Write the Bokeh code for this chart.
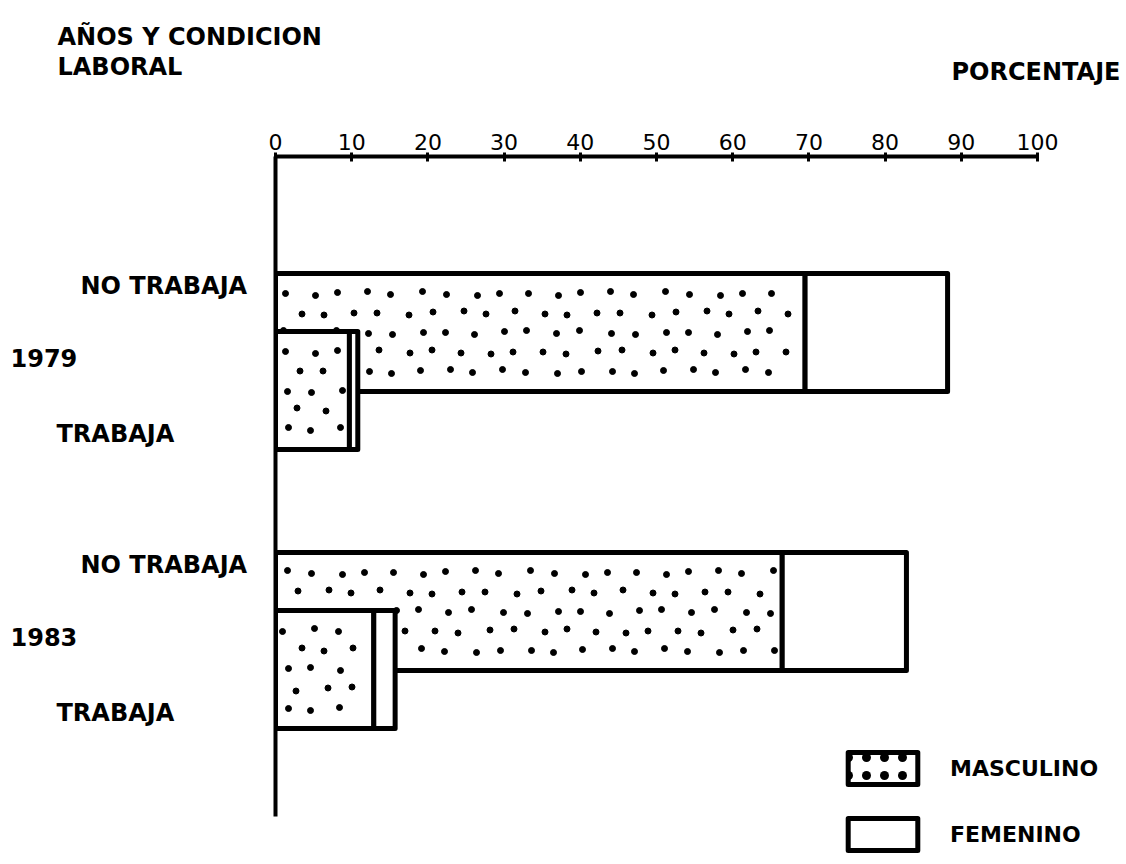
from bokeh.plotting import figure
from bokeh.layouts import column, row
from bokeh.models import (Range1d, ColumnDataSource, Legend, LegendItem, FixedTicker)
from bokeh.core.properties import value
from bokeh.embed import file_html
from bokeh.resources import INLINE

# ---- data ----
years = ["1979", "1983"]
conditions = ["NO TRABAJA", "TRABAJA"]
masculino_no_trabaja = [69.5, 66.5]
femenino_no_trabaja = [18.7, 16.3]
masculino_trabaja = [9.7, 12.9]
femenino_trabaja = [1.1, 2.8]
x_ticks = [0, 10, 20, 30, 40, 50, 60, 70, 80, 90, 100]
header_left = ["AÑOS Y CONDICION", "LABORAL"]
header_right = "PORCENTAJE"
legend_labels = ["MASCULINO", "FEMENINO"]

# ---- layout constants (pixels) ----
W, H = 1124, 862
HEAD_H = 116            # height of the header strip
LEFT_W = 250            # width of the left label strip
FRAME_L, FRAME_T = 275, 156
PX = 7.62               # px per percentage point
FONT = "DejaVu Sans"
TXT = dict(text_font=value(FONT), text_font_style="bold", text_font_size=value("24px"),
           text_color="black", text_baseline="middle")

group_centers = [361 + 279 * i for i in range(len(years))]
offset, bar_h = 29, 118


def blank(width, height, xr, yr, top=0):
    f = figure(width=width, height=height, output_backend="svg", toolbar_location=None,
               x_range=xr, y_range=yr, x_axis_type=None, y_axis_type=None,
               min_border=0, min_border_top=top)
    f.outline_line_color = None
    f.grid.visible = False
    return f


# ---- header ----
head = blank(W, HEAD_H, Range1d(0, W), Range1d(HEAD_H, 0))
head.text(x=[57, 57], y=[36, 66], text=header_left, text_align="left", **TXT)
head.text(x=[1120], y=[71], text=[header_right], text_align="right", **TXT)

# ---- left labels (frame aligned with the main frame) ----
left = blank(LEFT_W, H - HEAD_H, Range1d(0, LEFT_W), Range1d(H, FRAME_T),
             top=FRAME_T - HEAD_H)
lab_src = ColumnDataSource(dict(
    x=[80, 10, 56] * len(years),
    y=sum([[c - 76, c - 4, c + 72] for c in group_centers], []),
    t=sum([[conditions[0], yr, conditions[1]] for yr in years], []),
))
left.text(x="x", y="y", text="t", source=lab_src, text_align="left", **TXT)

# ---- main chart ----
p = figure(width=W - LEFT_W, height=H - HEAD_H, output_backend="svg", toolbar_location=None,
           x_range=Range1d(0, (W - FRAME_L) / PX), y_range=Range1d(H, FRAME_T),
           x_axis_location="above",
           min_border_left=FRAME_L - LEFT_W, min_border_right=0,
           min_border_top=FRAME_T - HEAD_H, min_border_bottom=0)
p.outline_line_color = None
p.grid.visible = False

xa = p.xaxis[0]
xa.ticker = FixedTicker(ticks=x_ticks)
xa.axis_line_width = 4
xa.major_tick_line_width = 3
xa.major_tick_in = 5
xa.major_tick_out = 4
xa.minor_tick_line_color = None
xa.major_label_text_font = FONT
xa.major_label_text_font_size = "22px"
xa.major_label_text_color = "black"
xa.major_label_standoff = 3
xa.bounds = (0, 100)

ya = p.yaxis[0]
ya.ticker = FixedTicker(ticks=[])
ya.axis_line_width = 4
ya.major_tick_out = 0
ya.major_tick_in = 0
ya.major_label_standoff = 0
ya.major_tick_line_color = None
ya.minor_tick_line_color = None
ya.bounds = (FRAME_T, 816)


def bar_source(ys, masc, fem):
    return ColumnDataSource(dict(y=ys, m=masc, t=[a + b for a, b in zip(masc, fem)]))


no_src = bar_source([c - offset for c in group_centers], masculino_no_trabaja, femenino_no_trabaja)
tr_src = bar_source([c + offset for c in group_centers], masculino_trabaja, femenino_trabaja)

# stipple texture for the "MASCULINO" segments (decorative fill, derived from bar extents)
JX = [0, 3, -2, 1, -3, 2, -1, 3, -2]
JY = [0, -2, 2, 1, -1, 2, -2, 0, 1]


def stipple(src):
    xs, ys = [], []
    n = 0
    for yc, m in zip(src.data["y"], src.data["m"]):
        top = yc - bar_h / 2
        right_px = m * PX
        for k in range(5):
            yy = top + 20 + 19.5 * k
            xx = 10 + (13.5 if k % 2 else 0)
            while xx < right_px - 8:
                xs.append((xx + JX[n % len(JX)]) / PX)
                ys.append(yy + JY[(n * 2 + k) % len(JY)])
                n += 1
                xx += 27
    return ColumnDataSource(dict(x=xs, y=ys))


bar_line = dict(line_color="black", line_width=5, line_join="round", fill_color="white")
dot_style = dict(size=6, color="black")

r_m1 = p.hbar(y="y", left=0, right="m", height=bar_h, source=no_src, **bar_line)
p.scatter(x="x", y="y", source=stipple(no_src), **dot_style)
r_f1 = p.hbar(y="y", left="m", right="t", height=bar_h, source=no_src, **bar_line)
r_m2 = p.hbar(y="y", left=0, right="m", height=bar_h, source=tr_src, **bar_line)
p.scatter(x="x", y="y", source=stipple(tr_src), **dot_style)
r_f2 = p.hbar(y="y", left="m", right="t", height=bar_h, source=tr_src, **bar_line)

# hidden twin of the masculino bars, used only for the dotted legend swatch
proxy = p.hbar(y="y", left=0, right="m", height=bar_h, source=no_src, visible=False,
               hatch_pattern="dot", hatch_color="black", hatch_scale=18, hatch_weight=1,
               **bar_line)

legend = Legend(items=[LegendItem(label=legend_labels[0], renderers=[proxy]),
                       LegendItem(label=legend_labels[1], renderers=[r_f1])],
                location=(564, 8), orientation="vertical",
                glyph_width=87, glyph_height=40, spacing=26, label_standoff=24,
                padding=0, margin=0, border_line_color=None,
                background_fill_alpha=0, inactive_fill_alpha=0,
                label_text_font=FONT, label_text_font_style="bold",
                label_text_font_size="22px", label_text_color="black")
p.add_layout(legend, "center")

layout = column(head, row(left, p, spacing=0), spacing=0)
open("out.html", "w").write(file_html(layout, INLINE))
